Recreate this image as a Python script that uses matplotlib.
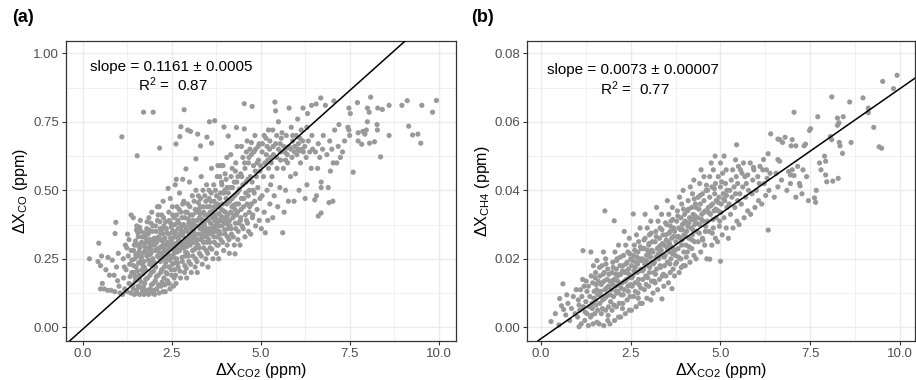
import numpy as np
import matplotlib
matplotlib.use("Agg")
import matplotlib.pyplot as plt
from matplotlib.ticker import MultipleLocator

plt.rcParams['font.family'] = ['Liberation Sans', 'DejaVu Sans']
plt.rcParams['mathtext.fontset'] = 'custom'
plt.rcParams['mathtext.rm'] = 'Liberation Sans'
plt.rcParams['mathtext.it'] = 'Liberation Sans:italic'

# ---- panel (a): dXCO vs dXCO2 ----
a_left = [(0.19,0.25),(0.45,0.307),(0.43,0.24),(0.5,0.225),(0.53,0.26),(0.55,0.16),(0.5,0.14),(0.6,0.14),
          (0.7,0.135),(0.8,0.135),(0.9,0.13),(0.71,0.255),(0.83,0.245),(0.88,0.19),(0.93,0.383),(0.91,0.342),
          (0.75,0.19),(0.65,0.21),(0.98,0.17),(0.95,0.22),(1.0,0.27),(1.02,0.15),(1.05,0.125),
          (1.12,0.12),(1.25,0.13),(1.35,0.125),(1.18,0.14),(1.3,0.16),(1.15,0.18),(1.38,0.2),(1.22,0.21),
          (1.32,0.23),(1.14,0.25),(1.28,0.26),(1.36,0.28),(1.2,0.3),(1.3,0.32),(1.26,0.34),(1.36,0.41),
          (1.42,0.40),(1.10,0.695),(1.24,0.29),(1.38,0.245),(1.17,0.22),(1.33,0.185)]

a_core = [(1.45,0.12),(1.6,0.12),(1.52,0.125),(1.68,0.13),(1.42,0.14),(1.56,0.15),(1.64,0.165),(1.48,0.17),
          (1.58,0.19),(1.44,0.2),(1.66,0.21),(1.5,0.22),(1.62,0.24),(1.46,0.25),(1.55,0.26),(1.68,0.27),
          (1.43,0.28),(1.6,0.29),(1.5,0.3),(1.66,0.31),(1.56,0.33),(1.64,0.35),(1.52,0.37),(1.62,0.39),
          (1.53,0.626),(1.71,0.785),(1.48,0.315),(1.58,0.275),(1.67,0.23),(1.54,0.205),
          (1.72,0.12),(1.85,0.12),(1.95,0.125),(1.78,0.13),(1.9,0.14),(1.74,0.16),(1.98,0.16),(1.82,0.18),
          (1.93,0.2),(1.76,0.21),(1.88,0.23),(1.72,0.24),(1.97,0.25),(1.8,0.26),(1.92,0.27),(1.75,0.28),
          (1.86,0.29),(1.96,0.3),(1.78,0.31),(1.9,0.32),(1.73,0.33),(1.84,0.34),(1.95,0.35),(1.8,0.36),
          (1.92,0.38),(1.86,0.40),(1.94,0.42),(1.98,0.785),(1.74,0.295),(1.88,0.265),(1.82,0.315),(1.96,0.225),
          (2.02,0.12),(2.15,0.125),(2.26,0.13),(2.08,0.14),(2.2,0.15),(2.04,0.17),(2.28,0.18),(2.12,0.19),
          (2.22,0.21),(2.05,0.22),(2.18,0.24),(2.28,0.25),(2.1,0.26),(2.24,0.27),(2.03,0.28),(2.16,0.29),
          (2.27,0.3),(2.08,0.31),(2.2,0.32),(2.13,0.33),(2.25,0.34),(2.06,0.35),(2.18,0.36),(2.28,0.37),
          (2.1,0.39),(2.22,0.41),(2.15,0.44),(2.26,0.46),(2.16,0.654),(2.1,0.44),(2.02,0.3),(2.14,0.275),
          (2.24,0.315),(2.19,0.345),
          (2.32,0.13),(2.45,0.14),(2.55,0.15),(2.38,0.17),(2.5,0.19),(2.34,0.2),(2.58,0.21),(2.42,0.22),
          (2.52,0.23),(2.36,0.25),(2.48,0.26),(2.57,0.27),(2.33,0.28),(2.44,0.29),(2.54,0.3),(2.38,0.31),
          (2.5,0.32),(2.58,0.33),(2.41,0.34),(2.53,0.35),(2.35,0.36),(2.47,0.38),(2.56,0.40),(2.42,0.42),
          (2.52,0.44),(2.46,0.47),(2.40,0.507),(2.6,0.52),(2.31,0.325),(2.46,0.305),(2.55,0.285),(2.39,0.265),
          (2.51,0.345),
          (2.62,0.16),(2.75,0.18),(2.86,0.2),(2.68,0.22),(2.8,0.24),(2.64,0.25),(2.88,0.26),(2.72,0.28),
          (2.83,0.29),(2.66,0.3),(2.78,0.31),(2.88,0.32),(2.62,0.33),(2.74,0.34),(2.85,0.35),(2.68,0.36),
          (2.8,0.37),(2.7,0.38),(2.87,0.40),(2.76,0.42),(2.65,0.44),(2.84,0.46),(2.72,0.49),(2.81,0.54),
          (2.63,0.54),(2.62,0.669),(2.73,0.696),(2.76,0.732),(2.85,0.794),(2.7,0.325),(2.82,0.305),(2.76,0.355),
          (2.66,0.275),
          (2.92,0.18),(3.05,0.2),(3.16,0.22),(2.98,0.24),(3.1,0.26),(2.94,0.27),(3.18,0.29),(3.02,0.3),
          (3.12,0.31),(2.96,0.32),(3.08,0.33),(3.18,0.34),(2.93,0.35),(3.04,0.36),(3.14,0.37),(2.98,0.38),
          (3.1,0.39),(3.02,0.41),(3.16,0.43),(2.95,0.45),(3.08,0.48),(3.18,0.5),(3.0,0.53),(2.9,0.578),
          (2.95,0.72),(3.03,0.715),(3.06,0.345),(2.97,0.305),(3.15,0.285),(3.12,0.355),
          (3.22,0.2),(3.36,0.23),(3.46,0.25),(3.28,0.27),(3.4,0.29),(3.24,0.3),(3.48,0.31),(3.32,0.32),
          (3.42,0.33),(3.26,0.34),(3.38,0.35),(3.47,0.36),(3.23,0.37),(3.34,0.38),(3.44,0.39),(3.28,0.4),
          (3.4,0.42),(3.3,0.44),(3.46,0.46),(3.25,0.48),(3.38,0.5),(3.48,0.52),(3.33,0.55),(3.18,0.615),
          (3.31,0.662),(3.23,0.705),(3.36,0.365),(3.45,0.345),(3.3,0.415),(3.42,0.375),
          (3.52,0.22),(3.66,0.25),(3.76,0.27),(3.58,0.29),(3.7,0.31),(3.54,0.32),(3.78,0.33),(3.62,0.34),
          (3.72,0.35),(3.56,0.36),(3.68,0.37),(3.78,0.38),(3.53,0.39),(3.64,0.4),(3.74,0.41),(3.58,0.42),
          (3.7,0.44),(3.6,0.46),(3.76,0.48),(3.55,0.5),(3.68,0.52),(3.78,0.55),(3.62,0.58),(3.49,0.694),
          (3.62,0.672),(3.56,0.75),(3.71,0.754),(3.8,0.59),(3.66,0.425),(3.75,0.395),(3.6,0.355),
          (3.82,0.25),(3.96,0.28),(4.06,0.3),(3.88,0.32),(4.0,0.34),(3.84,0.35),(4.08,0.36),(3.92,0.37),
          (4.02,0.38),(3.86,0.39),(3.98,0.4),(4.08,0.41),(3.9,0.43),(4.04,0.45),(3.85,0.47),(3.96,0.49),
          (4.06,0.51),(3.9,0.53),(4.0,0.56),(3.88,0.59),(4.05,0.62),(3.97,0.731),(4.09,0.698),(3.94,0.59),
          (3.95,0.425),(4.07,0.455),(3.83,0.415)]

a_fill = [(1.41,0.155),(1.51,0.135),(1.63,0.145),(1.47,0.185),(1.59,0.175),(1.69,0.195),(1.43,0.225),(1.57,0.235),
          (1.65,0.255),(1.49,0.265),(1.61,0.305),(1.45,0.3),(1.55,0.345),(1.67,0.33),(1.51,0.355),(1.6,0.365),
          (1.71,0.145),(1.83,0.135),(1.93,0.155),(1.77,0.175),(1.89,0.19),(1.99,0.205),(1.73,0.22),(1.85,0.245),
          (1.95,0.235),(1.79,0.275),(1.91,0.285),(1.99,0.31),(1.75,0.345),(1.87,0.355),(1.97,0.37),(1.81,0.385),
          (1.89,0.305),(1.78,0.325),
          (2.01,0.135),(2.13,0.155),(2.23,0.165),(2.07,0.185),(2.19,0.2),(2.29,0.22),(2.03,0.235),(2.15,0.255),
          (2.25,0.26),(2.09,0.285),(2.21,0.295),(2.01,0.325),(2.11,0.32),(2.23,0.355),(2.05,0.37),(2.17,0.385),
          (2.27,0.4),(2.12,0.41),(2.29,0.285),
          (2.31,0.155),(2.43,0.16),(2.57,0.18),(2.37,0.195),(2.49,0.21),(2.59,0.235),(2.33,0.235),(2.45,0.245),
          (2.55,0.255),(2.39,0.275),(2.51,0.285),(2.59,0.305),(2.35,0.3),(2.47,0.325),(2.57,0.35),(2.37,0.345),
          (2.49,0.365),(2.59,0.375),(2.43,0.39),(2.53,0.41),(2.33,0.385),
          (2.61,0.19),(2.73,0.205),(2.87,0.225),(2.67,0.235),(2.79,0.255),(2.89,0.275),(2.63,0.285),(2.75,0.295),
          (2.85,0.31),(2.69,0.315),(2.81,0.335),(2.61,0.345),(2.73,0.36),(2.83,0.375),(2.67,0.39),(2.79,0.4),
          (2.89,0.42),(2.71,0.43),(2.81,0.45),(2.64,0.41),
          (2.91,0.215),(3.03,0.23),(3.17,0.25),(2.97,0.26),(3.09,0.28),(3.19,0.31),(2.93,0.295),(3.05,0.315),
          (3.15,0.325),(2.99,0.335),(3.11,0.345),(2.91,0.365),(3.03,0.375),(3.13,0.385),(2.97,0.395),(3.09,0.41),
          (3.19,0.42),(3.01,0.44),(3.13,0.46),(2.93,0.42),
          (3.21,0.24),(3.33,0.26),(3.47,0.28),(3.27,0.29),(3.39,0.31),(3.49,0.33),(3.23,0.32),(3.35,0.335),
          (3.45,0.355),(3.29,0.36),(3.41,0.365),(3.21,0.39),(3.33,0.395),(3.43,0.41),(3.27,0.43),(3.39,0.44),
          (3.49,0.44),(3.31,0.47),(3.43,0.48),(3.25,0.455),
          (3.51,0.27),(3.63,0.285),(3.77,0.3),(3.57,0.31),(3.69,0.33),(3.79,0.35),(3.53,0.345),(3.65,0.36),
          (3.75,0.365),(3.59,0.38),(3.71,0.39),(3.51,0.41),(3.63,0.415),(3.73,0.43),(3.57,0.44),(3.69,0.46),
          (3.79,0.45),(3.61,0.49),(3.73,0.5),(3.55,0.47),
          (3.81,0.3),(3.93,0.31),(4.07,0.33),(3.87,0.34),(3.99,0.355),(4.09,0.375),(3.83,0.37),(3.95,0.385),
          (4.05,0.395),(3.89,0.405),(4.01,0.42),(3.81,0.44),(3.93,0.45),(4.03,0.47),(3.87,0.49),(3.99,0.5),
          (4.09,0.49),(3.91,0.52),(4.03,0.54),(3.85,0.55),
          (4.11,0.32),(4.23,0.33),(4.37,0.35),(4.17,0.36),(4.29,0.38),(4.43,0.39),(4.13,0.39),(4.25,0.41),
          (4.35,0.42),(4.19,0.44),(4.31,0.45),(4.45,0.43),(4.13,0.46),(4.27,0.48),(4.39,0.5),(4.21,0.51),
          (4.33,0.53),(4.47,0.55),(4.17,0.55),(4.29,0.57),
          (4.51,0.36),(4.63,0.38),(4.77,0.4),(4.57,0.41),(4.69,0.44),(4.83,0.46),(4.53,0.47),(4.65,0.48),
          (4.79,0.5),(4.59,0.53),(4.71,0.55),(4.85,0.57),(4.55,0.6),(4.67,0.62),(4.81,0.64),(4.93,0.66),
          (5.05,0.67),(5.15,0.69),(5.25,0.65),(5.35,0.66),(5.45,0.62),(5.55,0.67),(5.65,0.66),(5.75,0.63),
          (5.85,0.65),(5.95,0.64),(6.05,0.65),(5.9,0.7),(5.6,0.71),(5.3,0.6),(5.7,0.61),(6.1,0.69),
          (6.2,0.64),(5.45,0.7),(5.2,0.61),(5.0,0.59)]

a_right = [(4.12,0.27),(4.26,0.3),(4.36,0.32),(4.18,0.34),(4.3,0.36),(4.14,0.37),(4.38,0.38),(4.22,0.4),
           (4.32,0.41),(4.16,0.42),(4.28,0.43),(4.38,0.45),(4.2,0.47),(4.34,0.49),(4.14,0.51),(4.26,0.53),
           (4.36,0.55),(4.2,0.58),(4.3,0.6),(4.16,0.63),(4.34,0.66),(4.32,0.729),(4.28,0.268),(4.24,0.445),
           (4.4,0.505),
           (4.42,0.3),(4.56,0.33),(4.66,0.35),(4.48,0.37),(4.6,0.39),(4.44,0.4),(4.68,0.42),(4.52,0.44),
           (4.62,0.45),(4.46,0.47),(4.58,0.49),(4.68,0.5),(4.5,0.52),(4.64,0.54),(4.44,0.56),(4.56,0.58),
           (4.66,0.6),(4.5,0.62),(4.6,0.64),(4.46,0.66),(4.62,0.68),(4.54,0.816),(4.54,0.724),(4.7,0.65),
           (4.72,0.34),(4.86,0.37),(4.96,0.39),(4.78,0.41),(4.9,0.43),(4.74,0.45),(4.98,0.47),(4.82,0.49),
           (4.92,0.51),(4.76,0.53),(4.88,0.55),(4.98,0.57),(4.8,0.59),(4.94,0.61),(4.74,0.63),(4.86,0.65),
           (4.96,0.67),(4.84,0.7),(4.76,0.806),(4.74,0.674),(4.9,0.6),
           (5.02,0.36),(5.13,0.345),(5.2,0.39),(5.1,0.42),(5.26,0.45),(5.04,0.48),(5.18,0.5),(5.28,0.52),
           (5.08,0.55),(5.22,0.58),(5.12,0.6),(5.28,0.62),(5.04,0.64),(5.18,0.66),(5.26,0.68),(5.1,0.7),
           (5.22,0.72),(5.16,0.63),
           (5.34,0.4),(5.48,0.44),(5.38,0.48),(5.54,0.51),(5.32,0.55),(5.46,0.58),(5.56,0.61),(5.36,0.63),
           (5.5,0.65),(5.42,0.67),(5.58,0.69),(5.34,0.72),(5.5,0.75),(5.40,0.822),(5.42,0.79),(5.56,0.64),
           (5.62,0.345),(5.66,0.42),(5.78,0.46),(5.7,0.5),(5.84,0.55),(5.64,0.58),(5.76,0.6),(5.88,0.62),
           (5.68,0.64),(5.8,0.66),(5.9,0.68),(5.72,0.7),(5.86,0.73),(5.8,0.8),(5.74,0.655),
           (5.94,0.46),(6.08,0.5),(5.98,0.56),(6.12,0.6),(6.02,0.63),(6.16,0.65),(5.96,0.66),(6.06,0.67),
           (6.18,0.68),(6.0,0.7),(6.14,0.72),(6.04,0.76),(6.19,0.80),(6.1,0.645),
           (6.25,0.47),(6.3,0.52),(6.42,0.58),(6.28,0.62),(6.38,0.64),(6.46,0.65),(6.24,0.66),(6.34,0.68),
           (6.44,0.7),(6.3,0.73),(6.32,0.78),(6.43,0.81),
           (6.52,0.465),(6.57,0.48),(6.62,0.406),(6.7,0.417),(6.7,0.51),(6.7,0.53),(6.6,0.58),(6.66,0.62),
           (6.54,0.64),(6.74,0.65),(6.62,0.67),(6.76,0.7),(6.56,0.815),(6.69,0.837),
           (7.03,0.46),(6.92,0.455),(6.9,0.51),(6.96,0.57),(7.04,0.6),(6.86,0.63),(7.0,0.65),(6.94,0.68),
           (7.08,0.72),(6.82,0.81),(7.06,0.826),
           (7.14,0.6),(7.24,0.62),(7.3,0.64),(7.18,0.66),(7.36,0.68),(7.5,0.70),(7.2,0.74),(7.45,0.73),
           (7.48,0.72),(7.48,0.80),(7.52,0.78),
           (7.6,0.566),(7.74,0.68),(7.84,0.668),(7.74,0.71),(7.87,0.715),(7.93,0.705),(7.97,0.72),(8.0,0.75),
           (8.0,0.80),(7.72,0.82),
           (8.06,0.672),(8.2,0.677),(8.28,0.72),(8.27,0.74),(8.05,0.785),(8.09,0.84),(8.29,0.80),(8.42,0.795),
           (8.37,0.622),
           (8.61,0.81),(8.61,0.70),(8.97,0.81),(9.12,0.827),(9.16,0.734),(9.27,0.702),(9.42,0.705),(9.5,0.672),
           (9.53,0.81),(9.94,0.828),(9.83,0.785)]

# ---- panel (b): dXCH4 vs dXCO2 ----
b_left = [(0.28,0.0017),(0.5,0.0007),(0.52,0.0084),(0.61,0.0127),(0.57,0.0063),(0.63,0.0052),(0.69,0.0036),
          (0.4,0.004),(0.75,0.007),(0.8,0.002),(0.85,0.0055),(0.9,0.009),(0.95,0.004),(1.06,0.0002),(0.98,0.011),
          (0.72,0.0095),
          (1.02,0.003),(1.12,0.001),(1.22,0.002),(1.08,0.005),(1.18,0.006),(1.28,0.004),(1.04,0.008),(1.14,0.009),
          (1.25,0.0075),(1.1,0.011),(1.2,0.012),(1.28,0.0105),(1.16,0.014),(1.26,0.0135),(1.17,0.0224),(1.06,0.0065),
          (1.23,0.0045),(1.39,0.022),
          (1.32,0.0005),(1.45,0.001),(1.56,0.0015),(1.38,0.003),(1.5,0.004),(1.34,0.006),(1.58,0.005),(1.42,0.007),
          (1.52,0.008),(1.36,0.009),(1.48,0.0105),(1.58,0.0095),(1.32,0.012),(1.44,0.013),(1.54,0.0125),(1.4,0.015),
          (1.52,0.016),(1.46,0.018),(1.56,0.0195),(1.43,0.0055),(1.55,0.011)]

b_core = [(1.62,0.001),(1.75,0.0005),(1.86,0.002),(1.68,0.004),(1.8,0.005),(1.64,0.007),(1.88,0.006),(1.72,0.008),
          (1.82,0.009),(1.66,0.0105),(1.78,0.011),(1.88,0.012),(1.7,0.013),(1.84,0.014),(1.64,0.015),(1.76,0.016),
          (1.86,0.017),(1.7,0.018),(1.8,0.02),(1.74,0.022),(1.78,0.034),(1.68,0.0125),(1.85,0.0095),(1.76,0.0135),
          (1.92,0.001),(2.05,0.002),(2.16,0.003),(1.98,0.005),(2.1,0.006),(1.94,0.0075),(2.18,0.007),(2.02,0.009),
          (2.12,0.01),(1.96,0.011),(2.08,0.012),(2.18,0.0125),(1.92,0.0135),(2.04,0.014),(2.14,0.015),(1.98,0.016),
          (2.1,0.017),(2.2,0.018),(2.0,0.019),(2.12,0.02),(2.06,0.022),(2.16,0.024),(2.04,0.0311),(2.0,0.0125),
          (2.15,0.0105),(2.08,0.0155),
          (2.22,0.003),(2.35,0.004),(2.46,0.005),(2.28,0.007),(2.4,0.008),(2.24,0.0095),(2.48,0.009),(2.32,0.011),
          (2.42,0.012),(2.26,0.013),(2.38,0.014),(2.48,0.0145),(2.22,0.0155),(2.34,0.016),(2.44,0.017),(2.28,0.018),
          (2.4,0.019),(2.5,0.02),(2.3,0.021),(2.42,0.022),(2.36,0.024),(2.46,0.026),(2.32,0.028),(2.35,0.0135),
          (2.45,0.0155),(2.27,0.0165),
          (2.52,0.005),(2.65,0.006),(2.76,0.007),(2.58,0.009),(2.7,0.01),(2.54,0.012),(2.78,0.0115),(2.62,0.013),
          (2.72,0.014),(2.56,0.015),(2.68,0.016),(2.78,0.017),(2.52,0.018),(2.64,0.019),(2.74,0.02),(2.58,0.021),
          (2.7,0.022),(2.8,0.023),(2.6,0.024),(2.72,0.025),(2.66,0.027),(2.76,0.029),(2.57,0.0331),(2.62,0.0175),
          (2.74,0.0165),(2.67,0.0205),
          (2.82,0.007),(2.95,0.0085),(3.06,0.008),(2.88,0.011),(3.0,0.012),(2.84,0.014),(3.08,0.0135),(2.92,0.015),
          (3.02,0.016),(2.86,0.017),(2.98,0.018),(3.08,0.019),(2.82,0.02),(2.94,0.021),(3.04,0.022),(2.88,0.023),
          (3.0,0.024),(3.1,0.025),(2.9,0.026),(3.02,0.027),(2.96,0.029),(3.06,0.031),(2.9,0.033),(2.94,0.0195),
          (3.05,0.0205),(2.97,0.0225),
          (3.12,0.01),(3.25,0.011),(3.37,0.0083),(3.18,0.013),(3.3,0.014),(3.14,0.016),(3.38,0.015),(3.22,0.017),
          (3.32,0.018),(3.16,0.019),(3.28,0.02),(3.38,0.021),(3.12,0.022),(3.24,0.023),(3.34,0.024),(3.18,0.025),
          (3.3,0.026),(3.4,0.027),(3.2,0.028),(3.32,0.029),(3.26,0.031),(3.36,0.033),(3.22,0.035),(3.27,0.0215),
          (3.35,0.0225),(3.2,0.0205),
          (3.42,0.012),(3.55,0.013),(3.65,0.0113),(3.48,0.015),(3.6,0.016),(3.44,0.018),(3.68,0.017),(3.52,0.019),
          (3.62,0.02),(3.46,0.021),(3.58,0.022),(3.68,0.023),(3.42,0.024),(3.54,0.025),(3.64,0.026),(3.48,0.027),
          (3.6,0.028),(3.7,0.029),(3.5,0.03),(3.62,0.031),(3.56,0.033),(3.66,0.035),(3.52,0.037),(3.58,0.0245),
          (3.66,0.0215),(3.5,0.0235),
          (3.72,0.015),(3.85,0.016),(3.96,0.018),(3.78,0.019),(3.9,0.02),(3.74,0.021),(3.98,0.022),(3.82,0.023),
          (3.92,0.024),(3.76,0.025),(3.88,0.026),(3.98,0.027),(3.72,0.028),(3.84,0.029),(3.94,0.03),(3.78,0.031),
          (3.9,0.032),(4.0,0.033),(3.8,0.034),(3.92,0.036),(3.86,0.038),(3.96,0.04),(3.84,0.0265),(3.95,0.0285)]

b_fill = [(1.41,0.0035),(1.47,0.0085),(1.53,0.0065),(1.59,0.0135),(1.65,0.0095),(1.71,0.0055),(1.77,0.0085),
          (1.83,0.0115),(1.89,0.0155),(1.63,0.0175),(1.73,0.0155),(1.87,0.0035),(1.51,0.0145),(1.81,0.0185),
          (1.93,0.0095),(1.99,0.0135),(2.03,0.0065),(2.09,0.0105),(2.13,0.0135),(2.19,0.0155),(2.23,0.0115),
          (2.29,0.0095),(2.33,0.0135),(2.39,0.0165),(2.43,0.0105),(2.49,0.0125),(2.21,0.0205),(2.37,0.0185),
          (2.47,0.0215),(2.01,0.0175),(2.11,0.0195),(2.27,0.0055),
          (2.53,0.0145),(2.59,0.0165),(2.63,0.0105),(2.69,0.0185),(2.73,0.0125),(2.79,0.0195),(2.83,0.0165),
          (2.89,0.0185),(2.93,0.0125),(2.99,0.0215),(3.03,0.0175),(3.09,0.0225),(2.61,0.0225),(2.77,0.0235),
          (2.87,0.0255),(3.01,0.0245),(2.55,0.0195),(2.71,0.0085),(2.97,0.0145),(3.07,0.0275),
          (3.13,0.0185),(3.19,0.0155),(3.23,0.0205),(3.29,0.0235),(3.33,0.0175),(3.39,0.0245),(3.43,0.0205),
          (3.49,0.0255),(3.53,0.0225),(3.59,0.0185),(3.63,0.0235),(3.69,0.0265),(3.21,0.0265),(3.37,0.0285),
          (3.47,0.0305),(3.61,0.0295),(3.15,0.0135),(3.41,0.0155),(3.57,0.0275),(3.67,0.0315),
          (3.73,0.0225),(3.79,0.0265),(3.83,0.0205),(3.89,0.0285),(3.93,0.0255),(3.99,0.0305),(4.03,0.0265),
          (4.09,0.0295),(4.13,0.0235),(4.19,0.0315),(4.23,0.0285),(4.29,0.0325),(3.81,0.0325),(3.97,0.0345),
          (4.11,0.0345),(4.27,0.0375),(3.75,0.0185),(4.05,0.0205),(4.21,0.0255),(3.91,0.0175),
          (4.33,0.0305),(4.41,0.0275),(4.47,0.0315),(4.53,0.0335),(4.59,0.0295),(4.67,0.0335),(4.73,0.0355),
          (4.79,0.0315),(4.87,0.0345),(4.93,0.0365),(5.01,0.0335),(5.09,0.0375),(5.17,0.0385),(4.43,0.0385),
          (4.61,0.0415),(4.83,0.0405),(5.03,0.0425),(4.51,0.0255),(4.77,0.0275),(4.97,0.0295)]

b_right = [(4.02,0.018),(4.15,0.019),(4.26,0.021),(4.08,0.022),(4.2,0.023),(4.04,0.024),(4.28,0.025),(4.12,0.026),
           (4.22,0.027),(4.06,0.028),(4.18,0.029),(4.28,0.03),(4.02,0.031),(4.14,0.032),(4.24,0.033),(4.08,0.034),
           (4.2,0.035),(4.3,0.036),(4.1,0.037),(4.22,0.039),(4.16,0.041),(4.26,0.043),(4.12,0.0305),(4.25,0.0315),
           (4.32,0.02),(4.45,0.022),(4.56,0.024),(4.38,0.025),(4.5,0.026),(4.34,0.028),(4.58,0.028),(4.42,0.03),
           (4.52,0.031),(4.36,0.032),(4.48,0.033),(4.58,0.034),(4.32,0.035),(4.44,0.036),(4.54,0.037),(4.38,0.038),
           (4.5,0.039),(4.6,0.04),(4.42,0.042),(4.54,0.044),(4.46,0.046),(4.4,0.0345),
           (4.62,0.02),(4.7,0.0199),(4.76,0.024),(4.86,0.026),(4.68,0.028),(4.8,0.029),(4.64,0.031),(4.88,0.032),
           (4.72,0.033),(4.82,0.034),(4.66,0.035),(4.78,0.036),(4.88,0.037),(4.7,0.038),(4.84,0.039),(4.64,0.04),
           (4.76,0.041),(4.86,0.042),(4.7,0.044),(4.8,0.046),(4.74,0.048),(4.85,0.05),
           (4.92,0.025),(5.05,0.027),(5.16,0.029),(4.98,0.031),(5.1,0.032),(4.94,0.034),(5.18,0.035),(5.02,0.036),
           (5.12,0.037),(4.96,0.038),(5.08,0.039),(5.18,0.04),(5.0,0.041),(5.14,0.042),(4.94,0.044),(5.06,0.045),
           (5.16,0.046),(5.0,0.048),(5.1,0.05),(5.0,0.0193),
           (5.22,0.026),(5.35,0.029),(5.46,0.031),(5.28,0.033),(5.4,0.035),(5.24,0.036),(5.48,0.037),(5.32,0.038),
           (5.42,0.039),(5.26,0.04),(5.38,0.041),(5.48,0.042),(5.3,0.043),(5.44,0.044),(5.34,0.046),(5.45,0.0533),
           (5.42,0.0489),(5.5,0.047),
           (5.52,0.03),(5.66,0.032),(5.76,0.034),(5.58,0.036),(5.7,0.038),(5.54,0.039),(5.78,0.04),(5.62,0.041),
           (5.72,0.042),(5.56,0.046),(5.6,0.045),(5.68,0.044),(5.76,0.0445),(5.64,0.048),
           (5.83,0.048),(5.92,0.0467),(5.93,0.046),(5.84,0.033),(5.96,0.035),(6.06,0.037),(5.88,0.039),(6.0,0.04),
           (6.08,0.042),(5.9,0.043),(6.04,0.044),(6.1,0.047),
           (6.2,0.049),(6.33,0.0507),(6.18,0.046),(6.28,0.046),(6.4,0.0565),(6.15,0.036),(6.26,0.0385),(6.35,0.04),
           (6.22,0.042),(6.3,0.0435),(6.38,0.045),(6.33,0.0284),
           (6.6,0.049),(6.65,0.0485),(6.8,0.0555),(6.65,0.0548),(6.73,0.054),(6.6,0.055),(6.9,0.0455),(6.95,0.0445),
           (7.0,0.046),(6.5,0.038),(6.6,0.041),(6.7,0.043),(6.85,0.04),(6.95,0.042),(6.55,0.045),(7.0,0.0548),
           (6.97,0.053),
           (7.05,0.0443),(7.2,0.042),(7.22,0.0413),(7.1,0.053),(7.37,0.0535),(7.33,0.053),(7.51,0.058),(7.48,0.0575),
           (7.05,0.0628),(7.15,0.047),(7.3,0.046),(7.4,0.044),(7.1,0.038),(7.27,0.039),(7.45,0.037),
           (7.67,0.04),(7.65,0.0365),(7.62,0.0378),(7.71,0.0615),(7.9,0.05),(7.93,0.0485),(7.76,0.048),(7.8,0.046),
           (7.93,0.0445),(7.96,0.0425),(8.13,0.0427),(8.28,0.0435),(8.06,0.0557),(8.1,0.0548),(8.31,0.054),
           (8.33,0.053),(8.4,0.0508),(8.64,0.054),(8.26,0.0611),(8.3,0.0597),(8.26,0.059),(8.42,0.0615),(8.1,0.0673),
           (8.6,0.0658),(8.97,0.067),(9.12,0.064),(9.12,0.0627),(9.27,0.0584),(9.42,0.0527),(9.49,0.0523),
           (9.52,0.0718),(9.82,0.0697),(9.92,0.0736)]

# fitted lines
fit_a = (0.1161, -0.007)
fit_b = (0.0073, -0.0033)

fig = plt.figure(figsize=(9.16, 3.8), dpi=100)
ax_a = fig.add_axes([66/916, 1-340.7/380, 390/916, 300/380])
ax_b = fig.add_axes([527/916, 1-340.7/380, 388/916, 300/380])

def style(ax, xlim, ylim, ymaj, ymin):
  ax.set_xlim(*xlim)
  ax.set_ylim(*ylim)
  ax.xaxis.set_major_locator(MultipleLocator(2.5))
  ax.xaxis.set_minor_locator(MultipleLocator(1.25))
  ax.yaxis.set_major_locator(MultipleLocator(ymaj))
  ax.yaxis.set_minor_locator(MultipleLocator(ymin))
  ax.grid(which='major', color='#EBEBEB', lw=1.0)
  ax.grid(which='minor', color='#EBEBEB', lw=0.5)
  ax.set_axisbelow(True)
  for s in ax.spines.values():
    s.set_color('#333333')
    s.set_linewidth(0.9)
  ax.tick_params(which='major', length=3, width=0.8, color='#333333', labelcolor='#4D4D4D', labelsize=9.5, pad=2)
  ax.tick_params(which='minor', length=0)

pt_kw = dict(s=14, color='#999999', edgecolors='none', zorder=2)

for pts in (a_left, a_core, a_fill, a_right):
  x, y = zip(*pts)
  ax_a.scatter(x, y, **pt_kw)
ax_a.axline((0, fit_a[1]), slope=fit_a[0], color='black', lw=1.1, zorder=3)
style(ax_a, (-0.47, 10.49), (-0.049, 1.046), 0.25, 0.125)
ax_a.yaxis.set_major_formatter(plt.FuncFormatter(lambda v, p: f'{v:.2f}'))
ax_a.xaxis.set_major_formatter(plt.FuncFormatter(lambda v, p: f'{v:.1f}'))
ax_a.set_xlabel(r'$\Delta$X$_{\mathrm{CO2}}$ (ppm)', fontsize=11.5, labelpad=1)
ax_a.set_ylabel(r'$\Delta$X$_{\mathrm{CO}}$ (ppm)', fontsize=11.5, labelpad=2)
ax_a.text(2.5, 0.95, 'slope = 0.1161 ± 0.0005', ha='center', va='center', fontsize=11)
ax_a.text(2.55, 0.885, r'R$^2$ =  0.87', ha='center', va='center', fontsize=11)

for pts in (b_left, b_core, b_fill, b_right):
  x, y = zip(*pts)
  ax_b.scatter(x, y, **pt_kw)
ax_b.axline((0, fit_b[1]), slope=fit_b[0], color='black', lw=1.1, zorder=3)
style(ax_b, (-0.39, 10.42), (-0.0039, 0.0837), 0.02, 0.01)
ax_b.yaxis.set_major_formatter(plt.FuncFormatter(lambda v, p: f'{v:.2f}'))
ax_b.xaxis.set_major_formatter(plt.FuncFormatter(lambda v, p: f'{v:.1f}'))
ax_b.set_xlabel(r'$\Delta$X$_{\mathrm{CO2}}$ (ppm)', fontsize=11.5, labelpad=1)
ax_b.set_ylabel(r'$\Delta$X$_{\mathrm{CH4}}$ (ppm)', fontsize=11.5, labelpad=2)
ax_b.text(2.57, 0.0751, 'slope = 0.0073 ± 0.00007', ha='center', va='center', fontsize=11)
ax_b.text(2.62, 0.0697, r'R$^2$ =  0.77', ha='center', va='center', fontsize=11)

fig.text(12/916, 1-18/380, '(a)', fontsize=13, fontweight='bold', va='center', ha='left')
fig.text(471/916, 1-18/380, '(b)', fontsize=13, fontweight='bold', va='center', ha='left')

fig.savefig('out.png', dpi=100)
